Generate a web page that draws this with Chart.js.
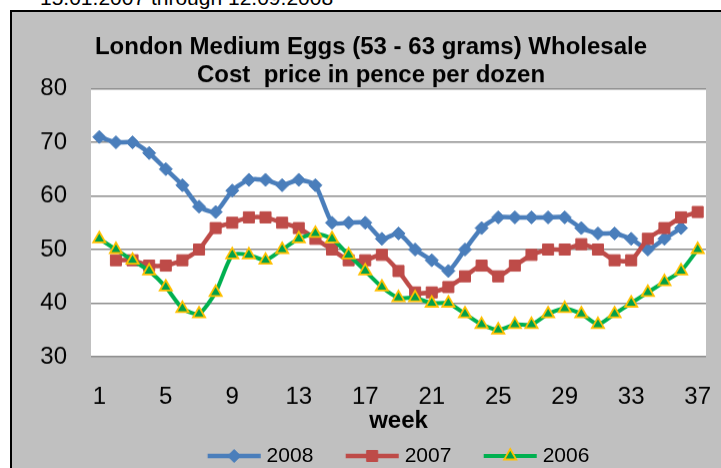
<!DOCTYPE html>
<html>
<head>
<meta charset="utf-8">
<script src="https://cdn.jsdelivr.net/npm/chart.js@4/dist/chart.umd.min.js"></script>
<style>
  html, body { margin: 0; padding: 0; background: #fff; overflow: hidden; }
  body { width: 721px; height: 468px; position: relative; font-family: "Liberation Sans", Arial, sans-serif; }
  #range { position: absolute; left: 40px; top: -13px; font-size: 21px; line-height: 21px; color: #000; white-space: nowrap; }
  #frame { position: absolute; left: 10px; top: 10px; width: 718px; height: 470px; border-left: 2px solid #000; border-top: 2px solid #000; background: #c0c0c0; }
  #wrap { position: absolute; left: 0; top: 0; width: 718px; height: 463.5px; }
</style>
</head>
<body>
<div id="range">15.01.2007 through 12.09.2008</div>
<div id="frame"><div id="wrap"><canvas id="chart-eggs"></canvas></div></div>
<script>
const weeks = [];
for (let w = 1; w <= 37; w++) weeks.push(String(w));

const price2008 = [71, 70, 70, 68, 65, 62, 58, 57, 61, 63, 63, 62, 63, 62, 55, 55, 55, 52, 53, 50,
                   48, 46, 50, 54, 56, 56, 56, 56, 56, 54, 53, 53, 52, 50, 52, 54, null];
const price2007 = [null, 48, 48, 47, 47, 48, 50, 54, 55, 56, 56, 55, 54, 52, 50, 48, 48, 49, 46, 42,
                   42, 43, 45, 47, 45, 47, 49, 50, 50, 51, 50, 48, 48, 52, 54, 56, 57];
const price2006 = [52, 50, 48, 46, 43, 39, 38, 42, 49, 49, 48, 50, 52, 53, 52, 49, 46, 43, 41, 41,
                   40, 40, 38, 36, 35, 36, 36, 38, 39, 38, 36, 38, 40, 42, 44, 46, 50];
const yTicks = [30, 40, 50, 60, 70, 80];

const FONT = "'Liberation Sans', Arial, sans-serif";

// legend swatch: short line with the marker in the middle
function legendSwatch(ds) {
  const c = document.createElement("canvas");
  c.width = 58; c.height = 20;
  const ctx = c.getContext("2d");
  const x0 = 4.75, x1 = 57.75, cy = 10;
  ctx.strokeStyle = ds.borderColor;
  ctx.lineWidth = ds.borderWidth;
  ctx.beginPath();
  ctx.moveTo(x0, cy); ctx.lineTo(x1, cy);
  ctx.stroke();
  ctx.fillStyle = ds.pointBackgroundColor;
  ctx.strokeStyle = ds.pointBorderColor;
  ctx.lineWidth = ds.pointBorderWidth;
  Chart.helpers.drawPoint(ctx, {
    pointStyle: ds.pointStyle,
    radius: ds.pointRadius,
    rotation: 0,
    borderWidth: ds.pointBorderWidth
  }, (x0 + x1) / 2, cy);
  return c;
}

const plotBackground = {
  id: "plotBackground",
  beforeDraw(chart) {
    const a = chart.chartArea;
    const ctx = chart.ctx;
    ctx.save();
    ctx.fillStyle = "#ffffff";
    ctx.fillRect(a.left, a.top, a.right - a.left, a.bottom - a.top);
    ctx.restore();
  }
};

const datasets = [
  {
    label: "2008", data: price2008, order: 3,
    borderColor: "#4a7ebb", borderWidth: 4.5,
    pointStyle: "rectRot", pointRadius: 6.5, pointHoverRadius: 6.5,
    pointBackgroundColor: "#4a7ebb", pointBorderColor: "#4a7ebb", pointBorderWidth: 1
  },
  {
    label: "2007", data: price2007, order: 2,
    borderColor: "#be4b48", borderWidth: 4.5,
    pointStyle: "rect", pointRadius: 7.8, pointHoverRadius: 7.8,
    pointBackgroundColor: "#be4b48", pointBorderColor: "#be4b48", pointBorderWidth: 1
  },
  {
    label: "2006", data: price2006, order: 1,
    borderColor: "#00b050", borderWidth: 4,
    pointStyle: "triangle", pointRadius: 7, pointHoverRadius: 7,
    pointBackgroundColor: "#00a04a", pointBorderColor: "#ffc000", pointBorderWidth: 1.8
  }
];

new Chart(document.getElementById("chart-eggs"), {
  type: "line",
  data: { labels: weeks, datasets: datasets },
  plugins: [plotBackground],
  options: {
    responsive: true,
    maintainAspectRatio: false,
    animation: false,
    events: [],
    layout: { padding: { left: 24, right: 24, top: 0, bottom: 0 } },
    elements: { line: { tension: 0.2 } },
    plugins: {
      tooltip: { enabled: false },
      title: {
        display: true,
        text: ["London Medium Eggs (53 - 63 grams) Wholesale", "Cost  price in pence per dozen"],
        color: "#000",
        font: { family: FONT, size: 24, weight: "bold", lineHeight: 28 / 24 },
        padding: { top: 21.5, bottom: -1 }
      },
      legend: {
        position: "bottom",
        fullSize: false,
        labels: {
          color: "#000",
          font: { family: FONT, size: 21 },
          usePointStyle: true,
          pointStyleWidth: 48.5,
          padding: 32.3,
          generateLabels(chart) {
            return chart.data.datasets.map((ds, i) => ({
              text: ds.label,
              pointStyle: legendSwatch(ds),
              fillStyle: ds.borderColor,
              strokeStyle: ds.borderColor,
              lineWidth: 0,
              datasetIndex: i,
              hidden: false
            }));
          }
        }
      }
    },
    scales: {
      x: {
        offset: true,
        grid: { display: false },
        border: { display: false },
        ticks: {
          color: "#000",
          font: { family: FONT, size: 24 },
          autoSkip: false,
          maxRotation: 0,
          padding: 18,
          callback(value, index) { return index % 4 === 0 ? weeks[index] : null; }
        },
        title: {
          display: true,
          text: "week",
          color: "#000",
          font: { family: FONT, size: 24, weight: "bold" },
          padding: { top: -23.2, bottom: -22.2 }
        }
      },
      y: {
        min: yTicks[0],
        max: yTicks[yTicks.length - 1],
        afterBuildTicks(axis) { axis.ticks = yTicks.map(v => ({ value: v })); },
        afterFit(axis) { axis.width = 55; },
        border: { display: false },
        grid: { color: "#8c8c8c", lineWidth: 1.5, drawTicks: false },
        ticks: {
          color: "#000",
          font: { family: FONT, size: 24 },
          padding: 24
        }
      }
    }
  }
});
</script>
</body>
</html>
